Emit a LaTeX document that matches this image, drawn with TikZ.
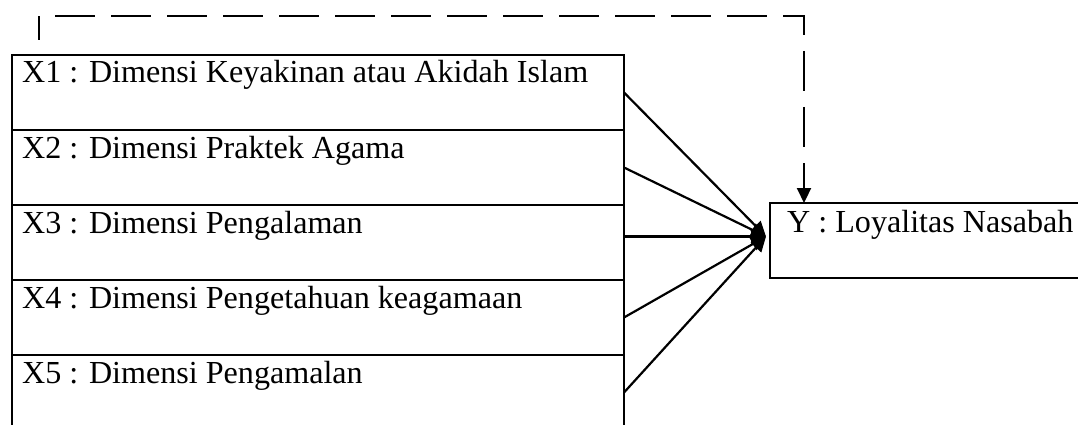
\documentclass[tikz,border=0pt]{standalone}
\usepackage{fontspec}
\setmainfont{Liberation Serif}
\usetikzlibrary{arrows.meta,calc}
\begin{document}
\begin{tikzpicture}[x=1pt,y=-1pt,
 box/.style={draw,line width=2.2pt,rectangle,minimum width=612pt,minimum height=75pt,anchor=north west,inner sep=0pt,outer sep=0pt},
 ybox/.style={draw,line width=2.2pt,rectangle,minimum width=330pt,minimum height=75pt,anchor=north west,inner sep=0pt,outer sep=0pt},
 lbl/.style={anchor=base west,inner sep=0pt,font=\fontsize{32.1}{36}\selectfont},
 arr/.style={line width=2.2pt,-{Triangle[length=15pt,width=14pt]}},
 dsh/.style={line width=2.2pt,dash pattern=on 40pt off 16pt,dash phase=16pt,-{Triangle[length=15pt,width=14pt]}}]
\useasboundingbox (0,0) rectangle (1078,425);
\clip (0,0) rectangle (1078,425);
\fill[white] (0,0) rectangle (1078,425);
% left boxes
\node[box] (x1) at (12,55) {};
\node[box] (x2) at (x1.south west) {};
\node[box] (x3) at (x2.south west) {};
\node[box] (x4) at (x3.south west) {};
\node[box] (x5) at (x4.south west) {};
\node[lbl] (t1) at ($(x1.north west)+(10,28)$) {X1 : Dimensi Keyakinan atau Akidah Islam};
\node[lbl] (t2) at ($(x2.north west)+(10,28)$) {X2 : Dimensi Praktek Agama};
\node[lbl] (t3) at ($(x3.north west)+(10,28)$) {X3 : Dimensi Pengalaman};
\node[lbl] (t4) at ($(x4.north west)+(10,28)$) {X4 : Dimensi Pengetahuan keagamaan};
\node[lbl] (t5) at ($(x5.north west)+(10,28)$) {X5 : Dimensi Pengamalan};
% right box
\node[ybox] (y) at (770,203) {};
\node[lbl] (ty) at ($(y.north west)+(17,29)$) {Y : Loyalitas Nasabah};
% converging arrows
\coordinate (tip) at ($(y.west)+(-4,-4)$);
\draw[arr] (x1.east) -- (tip);
\draw[arr] (x2.east) -- (tip);
\draw[arr] (x3.east |- tip) -- (tip);
\draw[arr] (x4.east) -- (tip);
\draw[arr] (x5.east) -- (tip);
% dashed feedback
\coordinate (ds) at (39,40);
\coordinate (dc) at (804,16);
\coordinate (de) at ($(y.north west)+(34,0)$);
\draw[dsh] (ds) |- (dc) -- (de);
\end{tikzpicture}
\end{document}
